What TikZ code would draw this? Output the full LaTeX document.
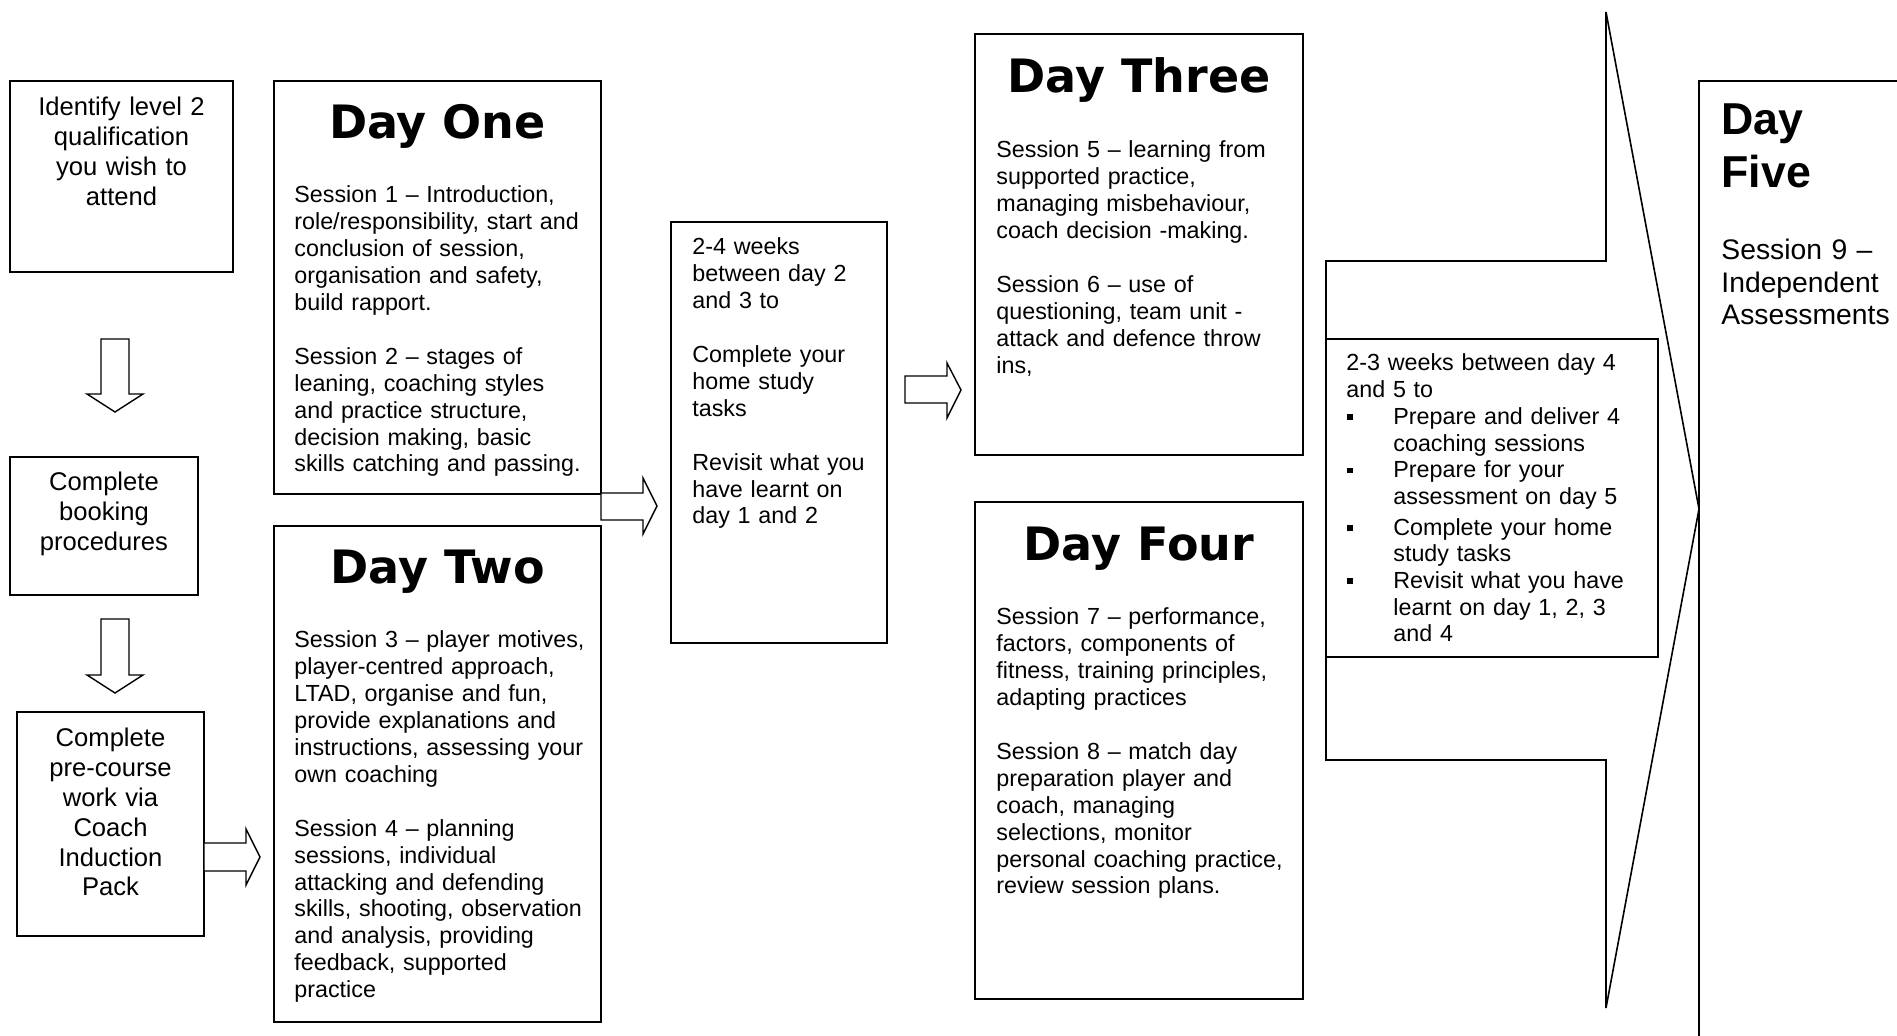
\documentclass[tikz,border=0pt]{standalone}
\usepackage{fontspec}
\setmainfont{Liberation Sans}
\newfontfamily\titlefont{DejaVu Sans}
\newcommand{\bulitem}{\makebox[23.5pt][l]{\hspace{0.3pt}\rule[2.3pt]{2.8pt}{2.8pt}}}
\newcommand{\inditem}{\hspace*{23.5pt}}
\begin{document}
\begin{tikzpicture}[x=0.5pt,y=-0.5pt,
  box/.style={draw,line width=1pt},
  blk/.style={draw,line width=0.7pt,line join=miter,fill=white},
  body/.style={anchor=base west,inner sep=0pt,text width=155pt,align=left,
    font=\fontsize{11.65}{13.45}\selectfont},
  cbody/.style={anchor=base,inner sep=0pt,text width=110pt,align=center,
    font=\fontsize{12.8}{14.9}\selectfont},
  title/.style={anchor=base,inner sep=0pt,
    font=\titlefont\bfseries\fontsize{23}{27}\selectfont}]
\useasboundingbox (0,0) rectangle (1897,1036);
\clip (0,0) rectangle (1897,1036);

% left column boxes
\draw[box] (10,81) rectangle (233,272);
\node[cbody] (tidentify) at (121.5,116) {Identify level 2\\qualification\\you wish to\\attend};
\draw[box] (10,457) rectangle (198,595);
\node[cbody] (tbooking) at (104,491) {Complete\\booking\\procedures};
\draw[box] (17,712) rectangle (204,936);
\node[cbody] (tpre) at (110.5,747) {Complete\\pre-course\\work via\\Coach\\Induction\\Pack};

% down arrows
\draw[blk] (101,339) -- (129,339) -- (129,394) -- (143,394) -- (115,412) -- (87,394) -- (101,394) -- cycle;
\draw[blk] (101,619) -- (129,619) -- (129,675) -- (143,675) -- (115,693) -- (87,675) -- (101,675) -- cycle;

% Day One
\draw[box] (274,81) rectangle (601,494);
\node[title] (h1) at (437.5,139) {Day One};
\node[body] (s1) at (294,203) {Session 1 – Introduction,\\role/responsibility, start and\\conclusion of session,\\organisation and safety,\\build rapport.\\[13.45pt]Session 2 – stages of\\leaning, coaching styles\\and practice structure,\\decision making, basic\\skills catching and passing.};

% Day Two
\draw[box] (274,526) rectangle (601,1022);
\node[title] (h2) at (437.5,584) {Day Two};
\node[body] (s2) at (294,648) {Session 3 – player motives,\\player-centred approach,\\LTAD, organise and fun,\\provide explanations and\\instructions, assessing your\\own coaching\\[13.45pt]Session 4 – planning\\sessions, individual\\attacking and defending\\skills, shooting, observation\\and analysis, providing\\feedback, supported\\practice};

% right arrows
\draw[blk] (204,843) -- (246,843) -- (246,829) -- (260,857) -- (246,885) -- (246,871) -- (204,871) -- cycle;
\draw[blk] (601,493) -- (643,493) -- (643,478) -- (657,506) -- (643,534) -- (643,520) -- (601,520) -- cycle;

% 2-4 weeks box
\draw[box] (671,222) rectangle (887,643);
\node[body] (w24) at (692,255) {2-4 weeks\\between day 2\\and 3 to\\[13.45pt]Complete your\\home study\\tasks\\[13.45pt]Revisit what you\\have learnt on\\day 1 and 2};

\draw[blk] (905,376) -- (947,376) -- (947,363) -- (961,390) -- (947,418) -- (947,403) -- (905,403) -- cycle;

% Day Three
\draw[box] (975,34) rectangle (1303,455);
\node[title] (h3) at (1139,93) {Day Three};
\node[body] (s3) at (996,158) {Session 5 – learning from\\supported practice,\\managing misbehaviour,\\coach decision -making.\\[13.45pt]Session 6 – use of\\questioning, team unit -\\attack and defence throw\\ins,};

% Day Four
\draw[box] (975,502) rectangle (1303,999);
\node[title] (h4) at (1139,561) {Day Four};
\node[body] (s4) at (996,625) {Session 7 – performance,\\factors, components of\\fitness, training principles,\\adapting practices\\[13.45pt]Session 8 – match day\\preparation player and\\coach, managing\\selections, monitor\\personal coaching practice,\\review session plans.};

% big arrow and 2-3 weeks box
\draw[line width=0.8pt,line join=miter] (1326,261) -- (1606,261) -- (1606,12) -- (1699,509) -- (1606,1008) -- (1606,760) -- (1326,760) -- cycle;
\draw[box,fill=white] (1326,339) rectangle (1658,657);
\node[body,font=\fontsize{11.65}{13.35}\selectfont] (w45) at (1346,371) {2-3 weeks between day 4\\and 5 to\\\bulitem Prepare and deliver 4\\\inditem coaching sessions\\\bulitem Prepare for your\\\inditem assessment on day 5\\[2pt]\bulitem Complete your home\\\inditem study tasks\\\bulitem Revisit what you have\\\inditem learnt on day 1, 2, 3\\\inditem and 4};

% Day Five
\draw[box] (1699,81) rectangle (1910,1050);
\node[anchor=base west,inner sep=0pt,text width=90pt,align=left,
  font=\bfseries\fontsize{22.35}{26.5}\selectfont] (h5) at (1721,135) {Day\\Five};
\node[anchor=base west,inner sep=0pt,text width=90pt,align=left,
  font=\fontsize{14.15}{16.25}\selectfont] (s5) at (1721,260) {Session 9 –\\Independent\\Assessments};
\end{tikzpicture}
\end{document}
